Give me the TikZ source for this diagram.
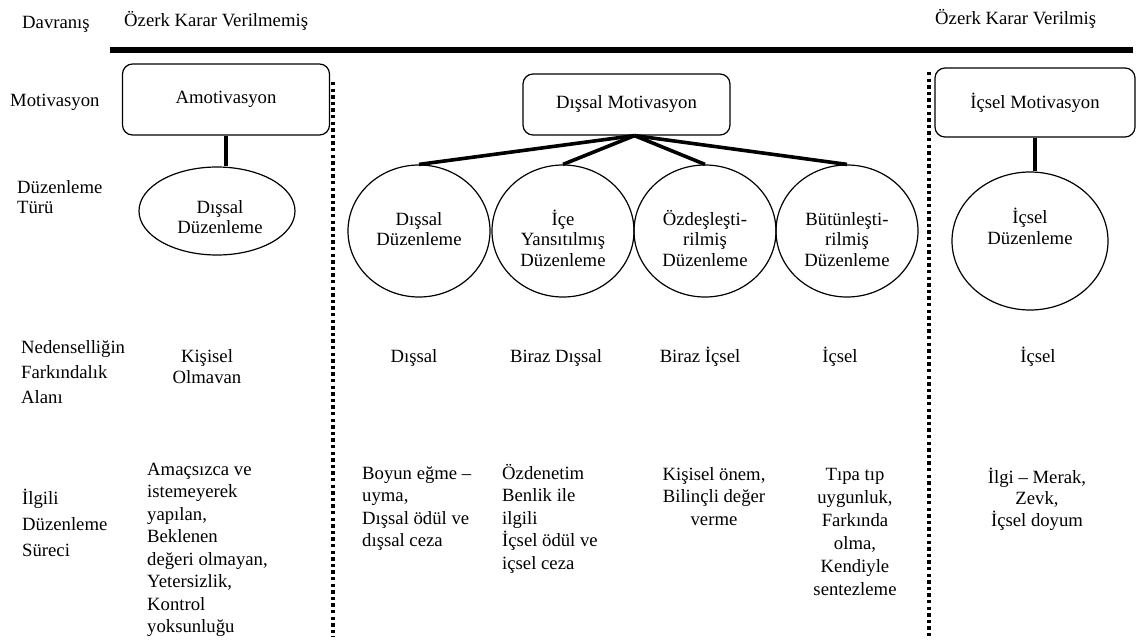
\documentclass[tikz,border=0pt]{standalone}
\usepackage{fontspec}
\setmainfont{Liberation Serif}
\usetikzlibrary{shapes.geometric,calc}
\newcommand\blk[3]{\fontsize{18.7}{#2}\selectfont\begin{tabular}[t]{@{}#1@{}}#3\end{tabular}}
\tikzset{
  every node/.style={font=\fontsize{18.7}{21}\selectfont, inner sep=0pt},
  mbox/.style={draw, rounded corners=10pt, line width=1.2pt},
  ell/.style={draw, ellipse, line width=1.2pt},
  conn/.style={line width=3.6pt},
  sepline/.style={line width=3.3pt, dash pattern=on 3.3pt off 3.3pt},
  bl/.style={anchor=base west},
  bc/.style={anchor=base}
}
\begin{document}
\begin{tikzpicture}[x=1pt,y=-1pt]
\useasboundingbox (0,0) rectangle (1138,640);
% header
\node[bl] (davr) at (22,28) {Davranış};
\node[bl] (ozkv) at (124,26) {Özerk Karar Verilmemiş};
\node[bl] (ozv) at (935,24) {Özerk Karar Verilmiş};
\coordinate (hl) at (110,50);
\coordinate (hr) at (1133,50);
\draw[line width=5.5pt] (hl) -- (hr);
% row labels
\node[bl] (lmot) at (10,106) {Motivasyon};
\node[bl] (ltur) at (17,193) {\blk{l}{20}{Düzenleme\\Türü}};
\node[bl] (lned) at (21,353) {\blk{l}{25}{Nedenselliğin\\Farkındalık\\Alanı}};
\node[bl] (lilg) at (22,504) {\blk{l}{26}{İlgili\\Düzenleme\\Süreci}};
% motivation boxes
\node[mbox, minimum width=207pt, minimum height=71pt] (amo) at (226,99.5) {Amotivasyon};
\node[mbox, minimum width=207pt, minimum height=61pt] (dm) at (626.5,104.5) {Dışsal Motivasyon};
\node[mbox, minimum width=200pt, minimum height=69pt] (im) at (1035,102.5) {İçsel Motivasyon};
% ellipses
\node[ell, minimum width=156pt, minimum height=88pt] (e0) at (217,211) {};
\node[ell, minimum width=142pt, minimum height=132pt] (e1) at (419,231) {};
\node[ell, minimum width=142pt, minimum height=132pt] (e2) at (563,231) {};
\node[ell, minimum width=142pt, minimum height=132pt] (e3) at (705,231) {};
\node[ell, minimum width=142pt, minimum height=132pt] (e4) at (847,231) {};
\node[ell, minimum width=156pt, minimum height=138pt] (e5) at (1030,241) {};
\node[bc] (t0) at (220,213) {\blk{c}{20}{Dışsal\\Düzenleme}};
\node[bc] (t1) at (419,225) {\blk{c}{20.5}{Dışsal\\Düzenleme}};
\node[bc] (t2) at (563,225) {\blk{c}{20.5}{İçe\\Yansıtılmış\\Düzenleme}};
\node[bc] (t3) at (705,225) {\blk{c}{20.5}{Özdeşleşti-\\rilmiş\\Düzenleme}};
\node[bc] (t4) at (847,225) {\blk{c}{20.5}{Bütünleşti-\\rilmiş\\Düzenleme}};
\node[bc] (t5) at (1030,223) {\blk{c}{21}{İçsel\\Düzenleme}};
% connectors
\draw[conn] (amo.south) -- (amo.south |- e0.north);
\coordinate (apex) at ([xshift=8pt]dm.south);
\draw[conn] (apex) -- (e1.north);
\draw[conn] (apex) -- (e2.north);
\draw[conn] (apex) -- (e3.north);
\draw[conn] (apex) -- (e4.north);
\draw[conn] (im.south) -- (im.south |- e5.north);
% separators
\coordinate (s1t) at (333,82);
\coordinate (s1b) at (333,637);
\coordinate (s2t) at (929,72);
\coordinate (s2b) at (929,637);
\draw[sepline] (s1t) -- (s1b);
\draw[sepline] (s2t) -- (s2b);
% locus of causality row
\node[bc] (n0) at (207,362) {\blk{c}{21}{Kişisel\\Olmavan}};
\node[bc] (n1) at (414,362) {Dışsal};
\node[bc] (n2) at (556,362) {Biraz Dışsal};
\node[bc] (n3) at (700,362) {Biraz İçsel};
\node[bc] (n4) at (840,362) {İçsel};
\node[bc] (n5) at (1038,362) {İçsel};
% regulatory processes row
\node[bl] (p0) at (147,475) {\blk{l}{22.5}{Amaçsızca ve\\istemeyerek\\yapılan,\\Beklenen\\değeri olmayan,\\Yetersizlik,\\Kontrol\\yoksunluğu}};
\node[bl] (p1) at (362,479) {\blk{l}{22.5}{Boyun eğme –\\uyma,\\Dışsal ödül ve\\dışsal ceza}};
\node[bl] (p2) at (502,479) {\blk{l}{22.5}{Özdenetim\\Benlik ile\\ilgili\\İçsel ödül ve\\içsel ceza}};
\node[bc] (p3) at (714,480) {\blk{c}{22.5}{Kişisel önem,\\Bilinçli değer\\verme}};
\node[bc] (p4) at (855,480) {\blk{c}{23}{Tıpa tıp\\uygunluk,\\Farkında\\olma,\\Kendiyle\\sentezleme}};
\node[bc] (p5) at (1037,483) {\blk{c}{21.5}{İlgi – Merak,\\Zevk,\\İçsel doyum}};
\end{tikzpicture}
\end{document}
